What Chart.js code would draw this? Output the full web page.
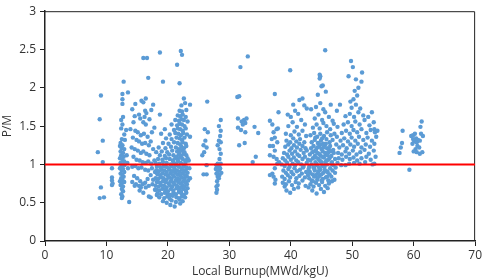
<!DOCTYPE html>
<html><head><meta charset="utf-8">
<script src="https://cdn.jsdelivr.net/npm/chart.js@4.4.1/dist/chart.umd.min.js"></script>
<style>html,body{margin:0;padding:0;background:#fff}#wrap{width:484px;height:279px}</style>
</head><body><div id="wrap"><canvas id="c" width="484" height="279"></canvas></div>
<script>
const xTicks = [0,10,20,30,40,50,60,70];
const yTicks = [0,0.5,1,1.5,2,2.5,3];
const yTickLabels = ['0','0.5','1','1.5','2','2.5','3'];
const refLineX = [0,70];
const refLineY = [1,1];

const clusterA = [[9.1,1.90],[8.9,1.59],[9.4,1.31],[8.6,1.16],[9.4,1.03],[9.1,0.70],[8.9,0.56],[9.6,0.57]];

const clusterB = [[10.9,0.95],[10.9,0.83],[10.9,0.79],[10.9,0.73],[11.0,0.75],
[12.8,2.08],[12.6,1.92],[13.5,1.94],[12.6,1.85],[12.6,1.79],[12.7,1.62],[12.4,1.58],[12.6,1.52],[12.4,1.47],[12.9,1.39],[12.5,1.33],[13.0,1.32],[12.3,1.28],[12.6,1.25],[12.2,1.24],[12.5,1.21],[12.9,1.20],[12.3,1.17],[12.7,1.15],[12.4,1.12],[12.8,1.10],[12.2,1.08],[12.6,1.06],[12.9,1.04],[12.3,1.02],[12.6,1.00],[12.9,0.99],[12.4,0.97],[12.2,0.95],[12.7,0.94],[12.5,0.92],[12.9,0.90],[12.3,0.88],[12.6,0.86],[12.8,0.84],[12.4,0.82],[12.6,0.80],[12.2,0.78],[12.9,0.77],[12.5,0.75],[12.3,0.73],[12.7,0.71],[12.5,0.68],[12.7,0.65],[12.4,0.61],[12.6,0.58],[12.5,0.56],[13.7,0.51],[13.2,1.45],[13.4,1.02],[13.5,0.95],[13.3,1.12]];

const clusterC = [[16.0,2.39],[16.6,2.39],[16.8,2.13],[14.2,1.72],[14.7,1.79],[15.7,1.83],[16.0,1.81],[16.4,1.86],[16.3,1.70],[16.5,1.67],[16.2,1.62],[14.6,1.63],[15.3,1.65],[15.5,1.60],[14.4,1.55],[16.0,1.55],[16.4,1.52],[17.0,1.59],[17.3,1.71],[17.6,1.78],[13.9,1.46],[14.7,1.44],[15.1,1.42],[15.6,1.38],[16.1,1.40],[16.7,1.36],[17.4,1.42],[17.8,1.48],[14.3,1.35],[14.9,1.32],[15.3,1.30],[15.8,1.27],[16.3,1.28],[16.9,1.25],[17.2,1.30],[14.1,1.22],[14.6,1.20],[15.1,1.18],[15.6,1.15],[16.0,1.17],[16.5,1.14],[17.0,1.12],[17.6,1.20],[18.1,1.16],[14.4,1.10],[14.9,1.06],[15.4,1.05],[15.9,1.03],[16.4,1.02],[16.8,1.04],[17.3,1.01],[17.8,1.05],[14.2,0.97],[14.7,0.98],[15.2,0.95],[15.7,0.96],[16.3,0.93],[16.8,0.92],[17.4,0.95],[17.9,0.90],[14.5,0.85],[15.0,0.82],[15.5,0.78],[15.9,0.74],[16.3,0.76],[16.7,0.81],[17.2,0.86],[17.6,0.80],[14.8,0.74],[15.3,0.72],[15.6,0.70],[16.4,0.70],[16.9,0.72],[17.5,0.74],[17.9,0.67],[18.2,0.60],[16.9,0.58],[17.2,0.57],[16.0,0.63],[15.4,0.66],[14.2,0.77],[14.6,0.72]];

const clusterD = [[20.4,0.47],[21.1,0.45],[22.0,0.49],
[19.2,0.52],[19.8,0.50],[20.6,0.53],[21.3,0.51],[21.9,0.54],[22.4,0.52],
[18.6,0.57],[19.4,0.56],[19.9,0.58],[20.3,0.55],[20.8,0.59],[21.4,0.57],[21.8,0.56],[22.3,0.58],[22.8,0.57],
[18.3,0.62],[18.9,0.61],[19.5,0.63],[19.9,0.62],[20.4,0.60],[20.9,0.63],[21.3,0.61],[21.8,0.64],[22.2,0.62],[22.6,0.60],[23.0,0.63],
[18.1,0.67],[18.6,0.66],[19.1,0.68],[19.6,0.67],[20.0,0.65],[20.5,0.68],[20.9,0.66],[21.4,0.69],[21.8,0.67],[22.1,0.65],[22.5,0.68],[22.9,0.66],[23.2,0.69],
[18.0,0.72],[18.5,0.71],[18.9,0.73],[19.4,0.72],[19.8,0.70],[20.3,0.73],[20.7,0.71],[21.1,0.74],[21.5,0.72],[22.0,0.70],[22.4,0.73],[22.7,0.71],[23.1,0.74],
[18.2,0.77],[18.7,0.76],[19.2,0.78],[19.6,0.77],[20.1,0.75],[20.5,0.78],[20.9,0.76],[21.3,0.79],[21.7,0.77],[22.1,0.75],[22.5,0.78],[22.9,0.76],[23.3,0.79],
[18.0,0.82],[18.4,0.81],[18.9,0.83],[19.3,0.82],[19.8,0.80],[20.2,0.83],[20.6,0.81],[21.0,0.84],[21.5,0.82],[21.9,0.80],[22.3,0.83],[22.7,0.81],[23.1,0.84],
[18.3,0.87],[18.7,0.86],[19.1,0.88],[19.6,0.87],[20.0,0.85],[20.4,0.88],[20.8,0.86],[21.2,0.89],[21.6,0.87],[22.0,0.85],[22.4,0.88],[22.8,0.86],[23.2,0.89],
[18.1,0.92],[18.5,0.91],[19.0,0.93],[19.4,0.92],[19.8,0.90],[20.3,0.93],[20.7,0.91],[21.1,0.94],[21.5,0.92],[21.9,0.90],[22.3,0.93],[22.7,0.91],[23.0,0.94],
[18.2,0.97],[18.8,0.96],[19.3,0.98],[19.7,0.97],[20.1,0.95],[20.6,0.98],[21.0,0.96],[21.4,0.99],[21.8,0.97],[22.2,0.95],[22.6,0.98],[23.0,0.96],
[18.0,1.02],[18.6,1.01],[19.2,1.03],[19.8,1.02],[20.4,1.00],[20.9,1.03],[21.3,1.01],[21.7,1.04],[22.1,1.02],[22.5,1.00],[22.9,1.03],
[18.4,1.07],[19.1,1.06],[19.7,1.08],[20.3,1.07],[20.8,1.05],[21.2,1.08],[21.6,1.06],[22.0,1.09],[22.4,1.07],[22.8,1.05],[23.2,1.08],
[18.7,1.12],[19.5,1.11],[20.2,1.13],[20.9,1.12],[21.4,1.10],[21.8,1.13],[22.2,1.11],[22.6,1.14],[23.0,1.12],
[19.0,1.17],[19.9,1.16],[20.7,1.18],[21.5,1.17],[21.9,1.15],[22.3,1.18],[22.7,1.16],
[18.5,1.22],[19.6,1.21],[20.5,1.23],[21.3,1.22],[21.8,1.20],[22.2,1.23],[22.6,1.21],[23.0,1.24],
[19.2,1.28],[20.1,1.27],[21.0,1.29],[21.6,1.28],[22.0,1.26],[22.4,1.29],[22.9,1.27],
[19.7,1.34],[20.6,1.33],[21.4,1.35],[21.9,1.34],[22.3,1.32],[22.7,1.35],
[18.9,1.40],[20.3,1.39],[21.2,1.41],[21.7,1.40],[22.1,1.38],[22.5,1.41],[23.1,1.39],
[19.5,1.46],[21.0,1.45],[21.6,1.47],[22.0,1.46],[22.4,1.44],[22.9,1.47],
[20.6,1.52],[21.5,1.51],[21.9,1.53],[22.3,1.52],[22.7,1.50],
[21.2,1.58],[21.8,1.57],[22.2,1.59],[22.6,1.58],[23.2,1.56],
[21.6,1.64],[22.0,1.63],[22.4,1.65],[22.9,1.62],
[21.9,1.70],[22.3,1.69],[23.0,1.71],
[22.2,1.77],[22.8,1.80],[23.6,1.78],
[18.7,2.46],[22.1,2.48],[22.3,2.43],[21.5,2.30],[19.2,2.08],[21.9,2.06],[18.7,1.65],[22.6,1.86],
[23.6,1.36],[23.6,0.82],[23.4,1.05],[23.5,0.95]];

const clusterE = [[26.4,1.82],[26.5,1.42],[26.1,1.31],[25.8,1.25],[26.3,1.22],[25.9,1.16],[25.6,1.12],[26.3,0.99],[25.8,0.87],[26.3,0.87],[26.0,1.46],
[28.6,1.58],[28.3,1.50],[28.6,1.44],[28.5,1.37],[28.3,1.31],[28.6,1.29],[28.1,1.25],[28.4,1.20],[28.6,1.14],[28.4,1.07],[28.1,1.01],[27.9,0.99],[28.3,0.97],[28.4,0.93],[28.1,0.90],[27.9,0.88],[28.4,0.86],[28.1,0.84],[28.3,0.82],[28.0,0.78],[28.1,0.73],[27.9,0.71],[28.0,0.67],[27.9,0.63],[28.6,1.01],[28.5,0.95],[27.8,0.94],[28.7,0.89],[28.2,0.96],
[31.8,2.27],[33.0,2.41],[31.3,1.88],[31.6,1.89],[32.0,1.56],[32.4,1.58],[32.8,1.60],[32.6,1.54],[31.4,1.48],[31.9,1.45],[32.6,1.42],[31.6,1.25],[32.5,1.28],[34.1,1.49],[34.7,1.41],[33.8,1.03],[34.3,1.10],[31.4,1.60],[32.2,1.52],
[37.4,1.92],[38.0,1.68],[36.6,1.57],[37.0,1.52],[37.9,1.47],[37.7,1.46],[37.2,1.42],[36.9,1.33],[37.4,1.35],[36.6,1.24],[37.1,1.24],[37.8,1.29],[37.4,1.18],[36.6,1.12],[37.2,1.10],[37.7,1.07],[38.1,1.03],[37.8,1.01],[37.4,0.95],[37.0,0.88],[37.2,0.84],[37.5,0.80],[37.4,0.75],[36.6,0.86]];

const clusterF = [[39.3,0.66],[39.9,0.63],[40.5,0.68],[41.2,0.70],[39.0,0.71],
[38.7,0.76],[39.2,0.74],[39.7,0.78],[40.2,0.73],[40.8,0.77],[41.3,0.75],[41.9,0.79],[42.4,0.72],
[38.6,0.84],[39.0,0.81],[39.5,0.86],[39.9,0.83],[40.4,0.87],[40.9,0.82],[41.4,0.85],[41.8,0.88],[42.3,0.83],[42.8,0.86],
[38.8,0.92],[39.2,0.89],[39.6,0.94],[40.1,0.90],[40.6,0.95],[41.0,0.91],[41.5,0.93],[42.0,0.96],[42.5,0.90],[42.9,0.94],
[38.5,1.00],[39.0,0.98],[39.4,1.02],[39.8,0.97],[40.3,1.01],[40.7,0.99],[41.2,1.03],[41.7,1.00],[42.1,0.98],[42.6,1.02],
[38.7,1.08],[39.1,1.05],[39.6,1.10],[40.0,1.06],[40.5,1.09],[40.9,1.05],[41.4,1.11],[41.9,1.07],[42.3,1.10],[42.8,1.06],
[38.9,1.15],[39.4,1.13],[39.8,1.18],[40.2,1.14],[40.7,1.17],[41.1,1.13],[41.6,1.19],[42.1,1.15],[42.6,1.18],
[39.1,1.23],[39.6,1.26],[40.1,1.21],[40.5,1.25],[41.0,1.22],[41.4,1.27],[41.9,1.24],[42.4,1.21],
[39.3,1.31],[39.9,1.29],[40.4,1.34],[40.9,1.30],[41.5,1.33],[42.2,1.29],
[39.2,1.40],[40.0,1.38],[40.6,1.43],[41.3,1.39],[41.9,1.44],[42.5,1.37],
[39.6,1.50],[40.3,1.55],[41.0,1.49],[41.7,1.58],[42.3,1.52],
[40.0,1.62],[40.7,1.70],[41.4,1.84],[41.9,1.86],[42.2,1.77],[42.6,1.73],[41.2,1.66],[39.9,2.23],[40.4,1.78],[39.5,1.65]];

const clusterG = [[43.5,0.66],[44.2,0.62],[44.9,0.68],[45.4,0.64],[46.0,0.69],[42.9,0.70],
[43.2,0.74],[43.7,0.71],[44.1,0.76],[44.6,0.73],[45.1,0.77],[45.6,0.72],[46.2,0.75],[46.7,0.78],
[43.0,0.82],[43.4,0.79],[43.8,0.84],[44.3,0.80],[44.7,0.85],[45.2,0.81],[45.7,0.83],[46.1,0.79],[46.6,0.84],[47.1,0.80],
[43.1,0.90],[43.5,0.87],[43.9,0.92],[44.4,0.88],[44.8,0.93],[45.3,0.89],[45.8,0.91],[46.3,0.87],[46.8,0.92],[47.2,0.89],
[43.0,0.97],[43.4,1.00],[43.8,0.95],[44.2,0.99],[44.6,0.96],[45.0,1.01],[45.5,0.97],[45.9,1.00],[46.4,0.95],[46.9,0.99],[47.3,0.96],
[43.2,1.05],[43.6,1.08],[44.0,1.03],[44.5,1.07],[44.9,1.04],[45.4,1.09],[45.8,1.05],[46.3,1.08],[46.7,1.03],[47.2,1.07],
[43.1,1.13],[43.5,1.16],[43.9,1.11],[44.3,1.15],[44.8,1.12],[45.2,1.17],[45.7,1.13],[46.1,1.16],[46.6,1.11],[47.0,1.15],
[43.3,1.21],[43.7,1.24],[44.1,1.19],[44.6,1.23],[45.0,1.20],[45.5,1.25],[45.9,1.21],[46.4,1.24],[46.9,1.19],
[43.4,1.29],[43.9,1.32],[44.4,1.28],[44.9,1.31],[45.3,1.27],[45.8,1.33],[46.3,1.29],[46.8,1.32],
[43.2,1.38],[43.8,1.41],[44.3,1.36],[44.8,1.40],[45.4,1.37],[45.9,1.42],[46.5,1.38],[47.1,1.40],
[43.6,1.48],[44.2,1.52],[44.7,1.47],[45.3,1.54],[45.8,1.50],[46.4,1.46],[47.0,1.53],
[43.9,1.60],[44.5,1.65],[45.1,1.58],[45.6,1.68],[46.2,1.62],[46.8,1.57],
[44.1,1.75],[44.8,1.80],[45.3,1.72],[44.4,1.91],[45.7,1.95],[45.2,2.03],[45.0,2.02],[44.7,2.17],[44.7,2.12],[44.8,2.15],[45.6,2.49],[43.3,1.72],[46.5,1.78],
[44.0,0.86],[44.5,0.91],[45.0,0.87],[45.5,0.93],[46.0,0.90],[44.2,1.01],[44.7,1.05],[45.2,0.98],[45.6,1.03],[46.1,1.06],[44.1,1.09],[44.6,1.14],[45.1,1.10],[45.6,1.15],[46.0,1.12],[44.3,1.22],[44.8,1.26],[45.3,1.22],[45.7,1.27],[46.2,1.20],[43.6,0.78],[44.4,0.83],[45.0,0.79],[45.9,0.84],[43.7,0.96],[46.6,1.01],[43.8,1.17],[46.5,1.17],[44.0,1.35],[45.1,1.34]];

const clusterH = [[47.6,1.02],[48.2,0.99],[48.9,0.99],[49.5,1.01],[50.3,1.02],[51.2,1.01],[52.1,1.03],[53.3,1.00],
[47.8,1.08],[48.4,1.06],[49.0,1.10],[49.6,1.07],[50.2,1.09],[50.8,1.05],[51.5,1.08],[52.3,1.10],[53.0,1.06],
[47.7,1.15],[48.3,1.13],[48.9,1.17],[49.5,1.14],[50.1,1.18],[50.7,1.13],[51.3,1.16],[52.0,1.19],[52.7,1.14],[53.5,1.18],
[47.9,1.22],[48.5,1.25],[49.1,1.21],[49.7,1.26],[50.3,1.23],[50.9,1.27],[51.5,1.22],[52.2,1.26],[52.9,1.23],[53.6,1.27],
[48.1,1.31],[48.7,1.34],[49.3,1.30],[49.9,1.35],[50.5,1.31],[51.1,1.36],[51.8,1.32],[52.5,1.35],[53.2,1.31],[53.9,1.36],
[48.3,1.41],[49.0,1.44],[49.6,1.40],[50.2,1.45],[50.8,1.42],[51.5,1.46],[52.3,1.41],[53.0,1.45],[53.7,1.42],
[48.6,1.52],[49.3,1.55],[49.9,1.50],[50.5,1.56],[51.2,1.52],[52.0,1.58],[52.8,1.51],[53.5,1.55],
[48.9,1.63],[49.6,1.66],[50.3,1.62],[51.0,1.68],[51.8,1.64],[49.9,1.74],[50.6,1.78],[51.3,1.73],[50.2,1.85],[50.8,1.90],[49.7,1.82],[50.4,1.96],[51.0,2.00],
[49.4,2.15],[50.6,2.11],[51.6,2.20],[51.5,2.08],[49.8,2.35],[50.1,2.27],[47.5,1.70],[48.0,1.78],[52.6,1.62],[53.2,1.68],[47.4,1.26],[47.5,1.36],[47.6,1.49],
[53.6,1.46],[54.1,1.44],[53.8,1.10],[53.6,1.01]];

const clusterI = [[57.7,1.15],[57.9,1.22],[58.1,1.28],[58.2,1.44],[59.3,0.93],[59.6,1.37],[59.9,1.38],[60.2,1.40],[60.4,1.34],[60.7,1.32],[60.1,1.30],[59.8,1.27],[60.5,1.29],[61.0,1.31],[61.1,1.49],[61.3,1.56],[61.5,1.37],[60.3,1.20],[60.0,1.17],[60.5,1.16],[61.0,1.14],[61.4,1.16],[60.6,1.24],[60.9,1.22],[61.2,1.40],[59.9,1.33]];

const clusters = [clusterA, clusterB, clusterC, clusterD, clusterE, clusterF, clusterG, clusterH, clusterI];
const scatterData = [];
clusters.forEach(c => c.forEach(p => scatterData.push({x: p[0], y: p[1]})));
const lineData = refLineX.map((x, i) => ({x: x, y: refLineY[i]}));

const FONT = "'Open Sans', 'Liberation Sans', sans-serif";

const framePlugin = {
  id: 'frame',
  beforeDatasetsDraw(chart) {
    const a = chart.chartArea, ctx = chart.ctx;
    ctx.save();
    ctx.strokeStyle = '#222';
    ctx.lineWidth = 1;
    ctx.beginPath();
    ctx.moveTo(a.left, a.top + 0.5);
    ctx.lineTo(a.right - 0.5, a.top + 0.5);
    ctx.lineTo(a.right - 0.5, a.bottom);
    ctx.stroke();
    ctx.restore();
  }
};

new Chart(document.getElementById('c'), {
  type: 'scatter',
  data: {
    datasets: [
      { data: lineData, showLine: true, borderColor: '#ff0000', borderWidth: 2, pointRadius: 0, order: 0 },
      { data: scatterData, backgroundColor: '#5b9bd5', borderWidth: 0, pointRadius: 2.2, order: 1 }
    ]
  },
  options: {
    responsive: false,
    animation: false,
    devicePixelRatio: 1,
    layout: { padding: { top: 6, right: 8, left: 0, bottom: 0 } },
    plugins: { legend: { display: false }, tooltip: { enabled: false } },
    scales: {
      x: {
        type: 'linear', min: 0, max: 70,
        afterBuildTicks: s => { s.ticks = xTicks.map(v => ({value: v})); },
        afterFit: s => { s.height = 38; },
        grid: { drawOnChartArea: false, drawTicks: true, tickLength: 5, color: '#222' },
        border: { color: '#222', width: 1.5 },
        ticks: { font: { family: FONT, size: 12 }, color: '#333', padding: 2, maxRotation: 0 },
        title: { display: true, text: 'Local Burnup(MWd/kgU)', font: { family: FONT, size: 12 }, color: '#333', padding: { top: 0, bottom: 0 } }
      },
      y: {
        type: 'linear', min: 0, max: 3,
        afterBuildTicks: s => { s.ticks = yTicks.map(v => ({value: v})); },
        afterFit: s => { s.width = 45; },
        grid: { drawOnChartArea: false, drawTicks: true, tickLength: 5, color: '#222' },
        border: { color: '#222', width: 1.5 },
        ticks: { font: { family: FONT, size: 12 }, color: '#333', padding: 4,
                 callback: (v) => { const i = yTicks.indexOf(v); return i >= 0 ? yTickLabels[i] : ''; } },
        title: { display: true, text: 'P/M', font: { family: FONT, size: 12 }, color: '#333', padding: { top: 0, bottom: 0 } }
      }
    }
  },
  plugins: [framePlugin]
});
</script>
</body></html>
